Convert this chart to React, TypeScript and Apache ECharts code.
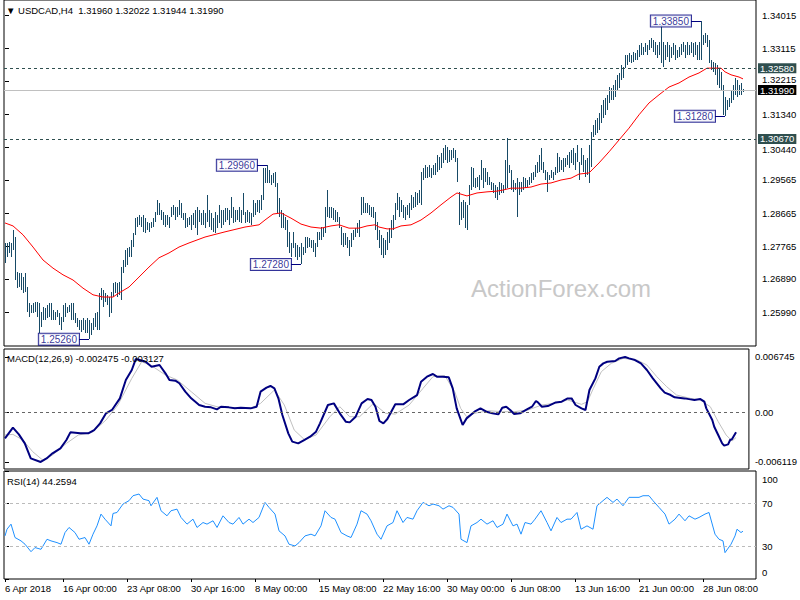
import React, { useEffect, useRef } from "react";
import * as echarts from "echarts";

const FONT = "'Liberation Sans', Arial, sans-serif";
const BAR_COLOR = "#174a66";
const NAVY = "#000080";

// Bar highs / lows (H4 bars, index 0 = first bar on the left)
const highs = [
  1.2786, 1.2786, 1.2789, 1.2786, 1.2821, 1.2802, 1.2708, 1.2705, 1.2705, 1.2694,
  1.2705, 1.2667, 1.2624, 1.2618, 1.2624, 1.2627, 1.2627, 1.2624, 1.2600, 1.2613,
  1.2610, 1.2618, 1.2624, 1.2624, 1.2605, 1.2600, 1.2605, 1.2597, 1.2586, 1.2618,
  1.2624, 1.2613, 1.2618, 1.2624, 1.2624, 1.2597, 1.2583, 1.2578, 1.2578, 1.2583,
  1.2578, 1.2583, 1.2578, 1.2570, 1.2583, 1.2597, 1.2600, 1.2651, 1.2664, 1.2659,
  1.2651, 1.2646, 1.2640, 1.2654, 1.2678, 1.2681, 1.2678, 1.2681, 1.2721, 1.2740,
  1.2767, 1.2772, 1.2775, 1.2794, 1.2813, 1.2853, 1.2856, 1.2862, 1.2856, 1.2862,
  1.2853, 1.2843, 1.2840, 1.2843, 1.2853, 1.2870, 1.2902, 1.2894, 1.2875, 1.2870,
  1.2862, 1.2862, 1.2856, 1.2883, 1.2889, 1.2883, 1.2883, 1.2902, 1.2894, 1.2867,
  1.2867, 1.2853, 1.2856, 1.2862, 1.2867, 1.2875, 1.2883, 1.2875, 1.2867, 1.2875,
  1.2867, 1.2916, 1.2875, 1.2867, 1.2853, 1.2870, 1.2862, 1.2889, 1.2875, 1.2875,
  1.2880, 1.2880, 1.2875, 1.2910, 1.2883, 1.2875, 1.2875, 1.2883, 1.2875, 1.2921,
  1.2870, 1.2875, 1.2870, 1.2867, 1.2902, 1.2894, 1.2902, 1.2902, 1.2916, 1.2988,
  1.2988, 1.2996, 1.2983, 1.2970, 1.2975, 1.2978, 1.2948, 1.2907, 1.2875, 1.2867,
  1.2856, 1.2848, 1.2816, 1.2786, 1.2816, 1.2786, 1.2781, 1.2775, 1.2786, 1.2775,
  1.2802, 1.2802, 1.2799, 1.2794, 1.2794, 1.2786, 1.2816, 1.2816, 1.2829, 1.2826,
  1.2883, 1.2929, 1.2883, 1.2883, 1.2880, 1.2875, 1.2870, 1.2856, 1.2829, 1.2813,
  1.2813, 1.2802, 1.2794, 1.2813, 1.2821, 1.2826, 1.2840, 1.2848, 1.2910, 1.2910,
  1.2894, 1.2894, 1.2889, 1.2883, 1.2883, 1.2870, 1.2843, 1.2821, 1.2808, 1.2799,
  1.2794, 1.2816, 1.2826, 1.2848, 1.2862, 1.2894, 1.2921, 1.2910, 1.2902, 1.2889,
  1.2883, 1.2889, 1.2894, 1.2916, 1.2910, 1.2924, 1.2921, 1.2929, 1.2978, 1.2988,
  1.2997, 1.2991, 1.2997, 1.2988, 1.2997, 1.3002, 1.3024, 1.3018, 1.3029, 1.3042,
  1.3051, 1.3045, 1.3037, 1.3037, 1.3042, 1.3037, 1.3015, 1.2924, 1.2897, 1.2902,
  1.2897, 1.2889, 1.2943, 1.2991, 1.2988, 1.2961, 1.2964, 1.2970, 1.3010, 1.2988,
  1.2988, 1.2978, 1.2964, 1.2951, 1.2948, 1.2943, 1.2937, 1.2951, 1.2948, 1.2943,
  1.3010, 1.3069, 1.2997, 1.2983, 1.2956, 1.2948, 1.2961, 1.2951, 1.2951, 1.2964,
  1.2961, 1.2956, 1.2964, 1.2975, 1.2978, 1.2997, 1.3005, 1.3024, 1.3042, 1.3005,
  1.2983, 1.2978, 1.2970, 1.2983, 1.2978, 1.2991, 1.3029, 1.3018, 1.3010, 1.3015,
  1.3015, 1.3024, 1.3032, 1.3037, 1.3042, 1.3029, 1.3051, 1.3005, 1.3042, 1.3024,
  1.3010, 1.3015, 1.3051, 1.3086, 1.3105, 1.3118, 1.3123, 1.3137, 1.3159, 1.3172,
  1.3177, 1.3186, 1.3207, 1.3204, 1.3213, 1.3226, 1.3240, 1.3245, 1.3267, 1.3261,
  1.3294, 1.3294, 1.3299, 1.3294, 1.3302, 1.3299, 1.3307, 1.3320, 1.3326, 1.3315,
  1.3326, 1.3320, 1.3334, 1.3339, 1.3334, 1.3329, 1.3320, 1.3329, 1.3375, 1.3329,
  1.3320, 1.3329, 1.3320, 1.3315, 1.3326, 1.3320, 1.3307, 1.3315, 1.3323, 1.3329,
  1.3320, 1.3329, 1.3320, 1.3329, 1.3326, 1.3329, 1.3320, 1.3329, 1.3385, 1.3348,
  1.3353, 1.3348, 1.3334, 1.3280, 1.3275, 1.3272, 1.3267, 1.3258, 1.3248, 1.3213,
  1.3180, 1.3172, 1.3177, 1.3199, 1.3213, 1.3231, 1.3226, 1.3213, 1.3218, 1.3202,
];

const lows = [
  1.2732, 1.2748, 1.2759, 1.2748, 1.2767, 1.2686, 1.2664, 1.2667, 1.2659, 1.2651,
  1.2654, 1.2600, 1.2586, 1.2597, 1.2597, 1.2600, 1.2586, 1.2543, 1.2559, 1.2578,
  1.2578, 1.2583, 1.2586, 1.2578, 1.2578, 1.2578, 1.2586, 1.2565, 1.2551, 1.2573,
  1.2586, 1.2597, 1.2600, 1.2578, 1.2578, 1.2570, 1.2559, 1.2551, 1.2546, 1.2551,
  1.2543, 1.2543, 1.2526, 1.2538, 1.2551, 1.2559, 1.2551, 1.2551, 1.2632, 1.2613,
  1.2627, 1.2618, 1.2586, 1.2597, 1.2640, 1.2651, 1.2640, 1.2646, 1.2632, 1.2705,
  1.2721, 1.2727, 1.2748, 1.2748, 1.2775, 1.2808, 1.2829, 1.2835, 1.2829, 1.2816,
  1.2813, 1.2821, 1.2816, 1.2826, 1.2829, 1.2843, 1.2862, 1.2862, 1.2848, 1.2835,
  1.2829, 1.2835, 1.2826, 1.2856, 1.2862, 1.2848, 1.2856, 1.2862, 1.2853, 1.2848,
  1.2826, 1.2829, 1.2835, 1.2821, 1.2835, 1.2826, 1.2808, 1.2843, 1.2835, 1.2835,
  1.2826, 1.2843, 1.2829, 1.2821, 1.2816, 1.2813, 1.2826, 1.2840, 1.2826, 1.2835,
  1.2843, 1.2848, 1.2835, 1.2853, 1.2840, 1.2843, 1.2848, 1.2843, 1.2840, 1.2862,
  1.2840, 1.2843, 1.2840, 1.2835, 1.2856, 1.2862, 1.2870, 1.2867, 1.2875, 1.2902,
  1.2948, 1.2948, 1.2948, 1.2943, 1.2948, 1.2937, 1.2867, 1.2856, 1.2826, 1.2826,
  1.2821, 1.2775, 1.2759, 1.2748, 1.2772, 1.2748, 1.2740, 1.2748, 1.2728, 1.2754,
  1.2759, 1.2772, 1.2775, 1.2772, 1.2762, 1.2748, 1.2775, 1.2794, 1.2794, 1.2802,
  1.2813, 1.2856, 1.2853, 1.2853, 1.2848, 1.2843, 1.2843, 1.2826, 1.2781, 1.2775,
  1.2781, 1.2772, 1.2751, 1.2775, 1.2794, 1.2802, 1.2813, 1.2802, 1.2862, 1.2867,
  1.2867, 1.2867, 1.2862, 1.2856, 1.2853, 1.2821, 1.2794, 1.2772, 1.2754, 1.2746,
  1.2754, 1.2767, 1.2786, 1.2799, 1.2821, 1.2848, 1.2875, 1.2856, 1.2870, 1.2853,
  1.2848, 1.2862, 1.2853, 1.2875, 1.2880, 1.2883, 1.2889, 1.2894, 1.2889, 1.2956,
  1.2961, 1.2961, 1.2964, 1.2961, 1.2970, 1.2970, 1.2978, 1.2983, 1.2988, 1.3002,
  1.3010, 1.3002, 1.3005, 1.3010, 1.3015, 1.3005, 1.2951, 1.2835, 1.2848, 1.2853,
  1.2826, 1.2821, 1.2889, 1.2929, 1.2937, 1.2934, 1.2937, 1.2929, 1.2956, 1.2934,
  1.2951, 1.2943, 1.2943, 1.2929, 1.2921, 1.2907, 1.2902, 1.2916, 1.2921, 1.2921,
  1.2929, 1.2934, 1.2975, 1.2929, 1.2924, 1.2929, 1.2856, 1.2916, 1.2924, 1.2929,
  1.2934, 1.2937, 1.2943, 1.2948, 1.2956, 1.2964, 1.2975, 1.2978, 1.2983, 1.2975,
  1.2956, 1.2924, 1.2956, 1.2961, 1.2956, 1.2970, 1.2975, 1.2978, 1.2983, 1.2978,
  1.2991, 1.2997, 1.2988, 1.3002, 1.2997, 1.2983, 1.3005, 1.2956, 1.2997, 1.2978,
  1.2964, 1.2970, 1.2948, 1.2991, 1.3072, 1.3078, 1.3083, 1.3091, 1.3110, 1.3123,
  1.3132, 1.3145, 1.3164, 1.3172, 1.3172, 1.3180, 1.3199, 1.3204, 1.3226, 1.3231,
  1.3258, 1.3267, 1.3275, 1.3272, 1.3275, 1.3280, 1.3280, 1.3288, 1.3294, 1.3294,
  1.3302, 1.3294, 1.3307, 1.3312, 1.3302, 1.3294, 1.3285, 1.3294, 1.3272, 1.3261,
  1.3280, 1.3288, 1.3275, 1.3285, 1.3294, 1.3280, 1.3285, 1.3288, 1.3294, 1.3302,
  1.3285, 1.3294, 1.3294, 1.3299, 1.3288, 1.3294, 1.3280, 1.3280, 1.3280, 1.3320,
  1.3326, 1.3315, 1.3272, 1.3253, 1.3248, 1.3240, 1.3213, 1.3204, 1.3199, 1.3132,
  1.3128, 1.3145, 1.3153, 1.3164, 1.3172, 1.3186, 1.3180, 1.3186, 1.3186, 1.3194,
];

// Red moving average, read at [bar index, price]
const maPoints: [number, number][] = [
  [0, 1.2840], [4, 1.2832], [9, 1.2808], [14, 1.2775], [19, 1.2740], [24, 1.2718],
  [29, 1.2700], [34, 1.2686], [39, 1.2664], [44, 1.2646], [49, 1.2640], [54, 1.2640],
  [57, 1.2651], [62, 1.2667], [67, 1.2694], [72, 1.2721], [77, 1.2746], [82, 1.2759],
  [87, 1.2775], [92, 1.2786], [100, 1.2802], [110, 1.2816], [120, 1.2829], [127, 1.2835],
  [130, 1.2848], [134, 1.2864], [138, 1.2867], [143, 1.2853], [148, 1.2837], [153, 1.2829],
  [158, 1.2826], [163, 1.2832], [167, 1.2835], [172, 1.2826], [177, 1.2826], [181, 1.2832],
  [185, 1.2835], [187, 1.2829], [191, 1.2824], [194, 1.2824], [198, 1.2832], [203, 1.2835],
  [208, 1.2848], [213, 1.2867], [218, 1.2889], [223, 1.2910], [226, 1.2921], [231, 1.2913],
  [236, 1.2921], [241, 1.2924], [246, 1.2926], [249, 1.2929], [253, 1.2934], [258, 1.2934],
  [263, 1.2937], [268, 1.2945], [273, 1.2948], [278, 1.2956], [283, 1.2961], [287, 1.2972],
  [292, 1.2975], [297, 1.3002], [302, 1.3032], [307, 1.3064], [312, 1.3096], [317, 1.3132],
  [322, 1.3164], [327, 1.3186], [332, 1.3207], [337, 1.3218], [342, 1.3234], [347, 1.3245],
  [351, 1.3258], [355, 1.3258], [358, 1.3258], [360, 1.3248], [363, 1.3240], [367, 1.3234],
  [369, 1.3229],
];

// MACD(12,26,9) main line and signal line
const macdMain: [number, number][] = [
  [0, -0.00322], [4, -0.00192], [7, -0.00274], [10, -0.00384], [13, -0.00568], [18, -0.006119],
  [21, -0.00568], [24, -0.00506], [28, -0.00445], [31, -0.00343], [33, -0.00249], [38, -0.00261],
  [42, -0.00261], [45, -0.00221], [48, -0.00139], [51, -0.00016], [54, 0.00025], [58, 0.00167],
  [61, 0.00392], [64, 0.00515], [66, 0.00649], [68, 0.00637], [71, 0.00616], [74, 0.00555],
  [78, 0.00576], [81, 0.00474], [83, 0.00392], [86, 0.00384], [88, 0.00352], [91, 0.00249],
  [94, 0.00168], [98, 0.00086], [101, 0.00065], [104, 0.00057], [107, 0.00033], [109, 0.00065],
  [113, 0.00057], [116, 0.00045], [119, 0.00053], [124, 0.00045], [127, 0.00065], [129, 0.00249],
  [132, 0.00298], [134, 0.00319], [136, 0.0029], [138, 0.00168], [140, -0.00037], [143, -0.00261],
  [145, -0.00363], [148, -0.00384], [151, -0.00343], [154, -0.00302], [157, -0.00241], [159, -0.00139],
  [163, 0.00086], [166, 0.00106], [169, -0.00016], [172, -0.00118], [174, -0.00127], [177, -0.00057],
  [180, 0.00106], [183, 0.00159], [185, 0.00147], [187, 0.00065], [189, -0.0011], [191, -0.00139],
  [193, -0.00086], [197, 0.00094], [201, 0.00094], [204, 0.00147], [208, 0.00208], [210, 0.00371],
  [213, 0.00433], [216, 0.00466], [218, 0.00433], [221, 0.00433], [224, 0.00425], [226, 0.0029],
  [228, 0.00045], [231, -0.00159], [233, -0.00078], [237, 0.00004], [240, 0.00045], [243, 0.00004],
  [246, -0.00016], [249, -0.00029], [251, 0.00053], [253, 0.00065], [255, 0.00025], [257, -0.00025],
  [260, -0.00016], [263, 0.00025], [266, 0.00065], [268, 0.00135], [269, 0.00118], [271, 0.00065],
  [274, 0.00073], [278, 0.00118], [281, 0.00127], [284, 0.00167], [286, 0.00167], [288, 0.00086],
  [291, 0.00045], [293, 0.00025], [295, 0.0027], [298, 0.00412], [300, 0.00555], [302, 0.00596],
  [304, 0.00616], [308, 0.00625], [310, 0.00657], [313, 0.006745], [315, 0.00657], [318, 0.00637],
  [321, 0.00596], [324, 0.00515], [327, 0.00412], [329, 0.00351], [331, 0.0029], [333, 0.00237],
  [336, 0.00208], [338, 0.0018], [343, 0.00167], [346, 0.00155], [348, 0.00147], [351, 0.00159],
  [353, 0.00127], [354, 0.00045], [357, -0.00098], [358, -0.0018], [360, -0.00282], [362, -0.00384],
  [363, -0.00412], [365, -0.00396], [366, -0.00343], [367, -0.00331], [369, -0.002475],
];

const macdSignal: [number, number][] = [
  [0, -0.00282], [4, -0.00274], [9, -0.00343], [14, -0.00486], [19, -0.00588], [24, -0.00527],
  [31, -0.00384], [37, -0.00282], [44, -0.00249], [51, -0.00098], [57, 0.00086], [64, 0.00412],
  [69, 0.00616], [74, 0.00567], [81, 0.00453], [87, 0.00392], [94, 0.00249], [101, 0.00106],
  [107, 0.00065], [114, 0.00053], [124, 0.00045], [129, 0.00106], [136, 0.0027], [141, 0.00086],
  [146, -0.00221], [151, -0.00335], [157, -0.00282], [164, -0.00057], [169, 0.00065], [174, -0.00057],
  [179, -0.00057], [186, 0.00106], [192, -0.00016], [197, -0.00025], [204, 0.00086], [211, 0.0029],
  [216, 0.00433], [222, 0.00445], [227, 0.00249], [230, 0.00045], [233, -0.00057], [237, -0.00016],
  [244, 0.00016], [251, 0.00004], [257, 0.00004], [264, 0.00025], [271, 0.00086], [277, 0.00106],
  [284, 0.00147], [291, 0.00094], [294, 0.00127], [297, 0.0029], [301, 0.00494], [306, 0.00596],
  [312, 0.00657], [319, 0.00637], [324, 0.00576], [329, 0.00433], [334, 0.0031], [339, 0.00208],
  [346, 0.00167], [351, 0.00147], [356, 0.00065], [360, -0.00118], [364, -0.00282], [367, -0.00355],
  [369, -0.003127],
];

// RSI(14)
const rsiPoints: [number, number][] = [
  [0, 39.9], [1, 46.1], [3, 50.8], [5, 38.4], [8, 35.3], [10, 32.2], [13, 25.3], [15, 29.1],
  [18, 27.5], [21, 36.8], [23, 35.3], [26, 33.7], [28, 32.2], [30, 43], [32, 47.7], [35, 43],
  [37, 36.8], [40, 38.4], [42, 32.2], [44, 41.5], [46, 49.2], [48, 60.1], [50, 55.4], [53, 49.2],
  [54, 60.7], [56, 61.6], [59, 69.4], [62, 72.5], [64, 77.1], [67, 78.7], [69, 74], [72, 72.5],
  [73, 67.8], [76, 75.6], [78, 63.2], [81, 58.5], [83, 63.2], [86, 64.7], [88, 57], [91, 50.8],
  [94, 55.4], [96, 47.7], [99, 52.3], [101, 50.8], [104, 53.9], [106, 47.7], [109, 58.5], [112, 52.3],
  [114, 50.8], [117, 57], [119, 50.8], [122, 55.4], [124, 52.3], [127, 57], [130, 70.9], [132, 66.3],
  [135, 60.1], [137, 44.6], [140, 39.9], [142, 32.2], [145, 30.6], [147, 33.7], [150, 39.9], [153, 41.5],
  [155, 39.9], [158, 49.2], [160, 63.2], [163, 57], [165, 55.4], [168, 43], [171, 39.9], [173, 38.4],
  [176, 50.8], [178, 63.2], [181, 60.1], [183, 53.9], [186, 41.5], [188, 36.8], [191, 49.2], [194, 52.3],
  [196, 63.2], [199, 52.3], [201, 57], [204, 55.4], [206, 63.2], [209, 70.9], [212, 67.8], [214, 69.4],
  [217, 67.8], [219, 64.7], [222, 67.8], [224, 66.3], [227, 60.1], [228, 36.8], [231, 33.7], [233, 49.2],
  [236, 52.3], [238, 55.4], [241, 50.8], [244, 53.9], [246, 47.7], [249, 50.8], [251, 60.1], [254, 49.2],
  [256, 50.8], [258, 41.5], [260, 52.3], [263, 50.8], [265, 55.4], [268, 63.2], [271, 52.3], [273, 44.6],
  [276, 57], [278, 52.3], [281, 55.4], [283, 55.4], [286, 61.6], [288, 46.1], [291, 49.2], [294, 46.1],
  [296, 67.8], [299, 72.5], [301, 75.6], [304, 70.9], [306, 74], [309, 67.8], [312, 75.6], [314, 75.6],
  [317, 75.6], [319, 77.1], [322, 77.1], [324, 72.5], [327, 66.3], [330, 60.1], [332, 50.8], [335, 55.4],
  [337, 60.1], [340, 53.9], [342, 58.5], [345, 55.4], [347, 57], [350, 60.1], [352, 61.6], [355, 41.5],
  [357, 36.8], [359, 35.3], [360, 24.4], [363, 32.2], [365, 39.9], [366, 46.1], [368, 43], [369, 44.2594],
];

// Labelled swing highs / lows
const annIdx = [348, 131, 360, 148, 42];
const annVal = [1.3385, 1.2996, 1.3128, 1.2728, 1.2526];

// Horizontal levels
const levelVals = [1.3258, 1.3067];
const lastPrice = 1.3199;

// Axis ticks
const timeTickIdx = [0, 29, 61, 93, 125, 157, 189, 221, 253, 285, 317, 349];
const timeTickLabels = [
  "6 Apr 2018", "16 Apr 00:00", "23 Apr 08:00", "30 Apr 16:00", "8 May 00:00", "15 May 08:00",
  "22 May 16:00", "30 May 00:00", "6 Jun 08:00", "13 Jun 16:00", "21 Jun 00:00", "28 Jun 08:00",
];
const priceTicks = [1.34015, 1.33115, 1.32215, 1.3134, 1.3044, 1.29565, 1.28665, 1.27765, 1.2689, 1.2599];
const macdTicks = [0.006745, 0, -0.006119];
const rsiLevels = [30, 70];

const XMIN = -0.5;
const XMAX = 375.5;

export default function App() {
  const ref = useRef<HTMLDivElement>(null);

  useEffect(() => {
    if (!ref.current) return;
    const chart = echarts.init(ref.current, undefined, { renderer: "svg" });

    const gridBase = { left: 4, right: 44, show: true, borderColor: "#000", borderWidth: 1, backgroundColor: "transparent" };
    const hiddenX = (g: number) => ({
      type: "value", gridIndex: g, min: XMIN, max: XMAX, show: false, splitLine: { show: false },
    });
    const axisText = { fontSize: 9.5, fontFamily: FONT, color: "#000", lineHeight: 10 };
    const richBase = { fontSize: 9.5, fontFamily: FONT, color: "#000", lineHeight: 10 };

    const markLabel = (text: string, bg: string) => ({
      show: true, position: "end", distance: 2, formatter: text,
      backgroundColor: bg, color: "#fff", padding: [0, 2, 0, 2], lineHeight: 10,
      fontSize: 9.5, fontFamily: FONT,
    });

    // labels that sit right next to a highlighted level box are nudged a little
    const priceLabel = (v: number) => {
      const s = v.toFixed(5);
      if (Math.abs(v - 1.32215) < 1e-7) return `{up|${s}}`;
      if (Math.abs(v - 1.3044) < 1e-7) return `{dn|${s}}`;
      return s;
    };

    const option: any = {
      animation: false,
      backgroundColor: "#fff",
      grid: [
        { ...gridBase, top: 0, height: 346 },
        { ...gridBase, top: 349, height: 120 },
        { ...gridBase, top: 471, height: 108 },
      ],
      xAxis: [
        hiddenX(0),
        hiddenX(1),
        {
          type: "value", gridIndex: 2, min: XMIN, max: XMAX,
          splitLine: { show: false },
          axisLine: { show: false },
          axisTick: { show: true, customValues: timeTickIdx, length: 3, lineStyle: { color: "#000" } },
          axisLabel: {
            ...axisText, lineHeight: 11, customValues: timeTickIdx, align: "left", margin: 4,
            formatter: (v: number) => timeTickLabels[timeTickIdx.indexOf(v)] ?? "",
          },
        },
      ],
      yAxis: [
        {
          type: "value", gridIndex: 0, position: "right", min: 1.25078, max: 1.3442,
          splitLine: { show: false }, axisLine: { show: false },
          axisTick: { show: true, customValues: priceTicks, length: 4, lineStyle: { color: "#000" } },
          axisLabel: {
            ...axisText, customValues: priceTicks, margin: 6, formatter: priceLabel,
            rich: {
              up: { ...richBase, padding: [0, 0, 5, 0] },
              dn: { ...richBase, padding: [5, 0, 0, 0] },
            },
          },
        },
        {
          type: "value", gridIndex: 1, position: "right", min: -0.00698, max: 0.00772,
          splitLine: { show: false }, axisLine: { show: false },
          axisTick: { show: true, customValues: macdTicks, length: 4, lineStyle: { color: "#000" } },
          axisLabel: {
            ...axisText, customValues: macdTicks, margin: 6,
            formatter: (v: number) => (v === 0 ? "0.00" : v.toFixed(6)),
          },
        },
        {
          type: "value", gridIndex: 2, position: "right", min: 0, max: 100,
          splitLine: { show: false }, axisLine: { show: false },
          axisTick: { show: true, customValues: [0, 30, 70, 100], length: 4, lineStyle: { color: "#000" } },
          axisLabel: { ...axisText, customValues: rsiLevels, margin: 6 },
        },
      ],
      graphic: [
        {
          type: "text", x: 561, y: 288, z: 0, silent: true,
          style: { text: "ActionForex.com", fontSize: 24, fontFamily: FONT, fill: "#c8c8c8", align: "center", verticalAlign: "middle" },
        },
        {
          type: "text", x: 6, y: 10, z: 10,
          style: { text: "\u25BC USDCAD,H4  1.31960 1.32022 1.31944 1.31990", fontSize: 9.5, fontFamily: FONT, fill: "#000", verticalAlign: "middle" },
        },
        {
          type: "text", x: 7, y: 358, z: 10,
          style: { text: "MACD(12,26,9) -0.002475 -0.003127", fontSize: 9.5, fontFamily: FONT, fill: "#000", verticalAlign: "middle" },
        },
        {
          type: "text", x: 7, y: 481, z: 10,
          style: { text: "RSI(14) 44.2594", fontSize: 9.5, fontFamily: FONT, fill: "#000", verticalAlign: "middle" },
        },
        {
          type: "text", x: 762, y: 479, z: 10,
          style: { text: "100", fontSize: 9.5, fontFamily: FONT, fill: "#000", verticalAlign: "middle" },
        },
        {
          type: "text", x: 762, y: 572, z: 10,
          style: { text: "0", fontSize: 9.5, fontFamily: FONT, fill: "#000", verticalAlign: "middle" },
        },
      ],
      series: [
        {
          type: "custom",
          name: "bars",
          coordinateSystem: "cartesian2d",
          xAxisIndex: 0,
          yAxisIndex: 0,
          z: 3,
          encode: { x: 0, y: [1, 2] },
          data: highs.map((h, i) => [i, lows[i], h]),
          renderItem: (_params: any, api: any) => {
            const lo = api.coord([api.value(0), api.value(1)]);
            const hi = api.coord([api.value(0), api.value(2)]);
            const x = Math.round(lo[0]) + 0.5;
            const y1 = Math.round(hi[1]);
            let y2 = Math.round(lo[1]);
            if (y2 - y1 < 1) y2 = y1 + 1;
            return {
              type: "line",
              shape: { x1: x, y1, x2: x, y2 },
              style: { stroke: BAR_COLOR, lineWidth: 1 },
            };
          },
        },
        {
          type: "line",
          name: "MA",
          xAxisIndex: 0,
          yAxisIndex: 0,
          z: 4,
          data: maPoints,
          showSymbol: false,
          symbol: "none",
          lineStyle: { color: "#ff0000", width: 1 },
          markLine: {
            silent: true,
            precision: 5,
            symbol: ["none", "none"],
            data: [
              ...levelVals.map((v) => ({
                yAxis: v,
                lineStyle: { color: "#2f4f4f", type: [3, 3], width: 1 },
                label: markLabel(v.toFixed(5), "#2f4f4f"),
              })),
              {
                yAxis: lastPrice,
                lineStyle: { color: "#c0c0c0", type: "solid", width: 1 },
                label: markLabel(lastPrice.toFixed(5), "#000"),
              },
            ],
          },
        },
        {
          type: "scatter",
          name: "swings",
          xAxisIndex: 0,
          yAxisIndex: 0,
          z: 6,
          symbolSize: 0,
          data: annIdx.map((x, k) => [x, annVal[k]]),
          label: {
            show: true,
            position: "left",
            distance: 10,
            formatter: (p: any) => p.value[1].toFixed(5),
            backgroundColor: "#fff",
            borderColor: NAVY,
            borderWidth: 1,
            padding: [1, 2, 0, 2],
            lineHeight: 10,
            color: NAVY,
            fontSize: 10,
            fontFamily: FONT,
          },
          markLine: {
            silent: true,
            precision: 5,
            symbol: ["none", "none"],
            label: { show: false },
            lineStyle: { color: NAVY, type: "solid", width: 1 },
            data: annIdx.map((x, k) => [{ coord: [x - 5, annVal[k]] }, { coord: [x, annVal[k]] }]),
          },
        },
        {
          type: "line",
          name: "MACD signal",
          xAxisIndex: 1,
          yAxisIndex: 1,
          z: 3,
          data: macdSignal,
          showSymbol: false,
          symbol: "none",
          lineStyle: { color: "#c0c0c0", width: 1 },
          markLine: {
            silent: true,
            symbol: ["none", "none"],
            label: { show: false },
            lineStyle: { color: "#666", type: [3, 3], width: 1 },
            data: [{ yAxis: 0 }],
          },
        },
        {
          type: "line",
          name: "MACD",
          xAxisIndex: 1,
          yAxisIndex: 1,
          z: 4,
          data: macdMain,
          showSymbol: false,
          symbol: "none",
          lineStyle: { color: "#000080", width: 2 },
        },
        {
          type: "line",
          name: "RSI",
          xAxisIndex: 2,
          yAxisIndex: 2,
          z: 4,
          data: rsiPoints,
          showSymbol: false,
          symbol: "none",
          lineStyle: { color: "#1e90ff", width: 1 },
          markLine: {
            silent: true,
            symbol: ["none", "none"],
            label: { show: false },
            lineStyle: { color: "#bbbbbb", type: [3, 3], width: 1 },
            data: rsiLevels.map((v) => ({ yAxis: v })),
          },
        },
      ],
    };

    chart.setOption(option);
    return () => chart.dispose();
  }, []);

  return (
    <div
      ref={ref}
      style={{ position: "fixed", left: 0, top: 0, width: 800, height: 600, background: "#fff" }}
    />
  );
}
